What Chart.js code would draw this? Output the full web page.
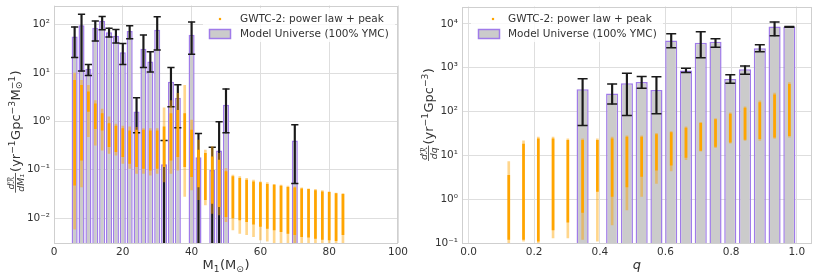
<!DOCTYPE html>
<html>
<head>
<meta charset="utf-8">
<script src="https://cdn.jsdelivr.net/npm/chart.js@4.4.1/dist/chart.umd.min.js"></script>
<style>
html, body { margin: 0; padding: 0; background: #fff; }
#wrap { position: relative; width: 818px; height: 277px; }
#wrap canvas { position: absolute; top: 0; }
#massChart { left: 0; }
#qChart { left: 409px; }
</style>
</head>
<body>
<div id="wrap">
    <canvas id="massChart" width="409" height="277"></canvas>
    <canvas id="qChart" width="409" height="277"></canvas>
</div>
<script>
// ---- left panel: primary mass ----
const massBarX = [6, 8, 10, 12, 14, 16, 18, 20, 22, 24, 26, 28, 30, 32, 34, 36, 40, 42, 46, 48, 50, 70];
const massBarVal = [57, 97, 12.3, 87, 121, 70, 59, 27, 74, 1.6, 32, 17.4, 79, 0.13, 6.6, 3.1, 62, 0.18, 0.098, 0.25, 2.2, 0.40];
const massErrHi = [90, 164, 15, 119, 148, 85, 80, 41, 95, 3.1, 61, 27.6, 146, 0.40, 13, 5.7, 114, 0.56, 0.29, 0.98, 4.7, 0.85];
const massErrLo = [21, 11, 8.9, 46, 79, 56, 42, 15, 51, 0.58, 13, 10.5, 30, 0.0001, 2.0, 0.74, 24.6, 0.0001, 0.0001, 0.0001, 0.58, 0.052];

const massGwX = [6, 8, 10, 12, 14, 16, 18, 20, 22, 24, 26, 28, 30, 32, 34, 36, 38, 40, 42, 44,
    46, 48, 50, 52, 54, 56, 58, 60, 62, 64, 66, 68, 70, 72, 74, 76, 78, 80, 82, 84];
const massGwHi = [10, 7.1, 5.6, 2.7, 1.8, 1.24, 0.875, 0.80, 0.77, 0.75, 0.71, 0.71, 0.71, 1.9, 2.7, 3.8, 5.6, 1.06, 0.41, 0.254,
    0.30, 0.217, 0.106, 0.077, 0.072, 0.066, 0.061, 0.056, 0.054, 0.050, 0.048, 0.046, 0.044, 0.042, 0.040, 0.039, 0.037, 0.035, 0.033, 0.032];
const massGwCoreHi = [7.1, 5.6, 4.1, 2.3, 1.45, 0.90, 0.80, 0.71, 0.64, 0.66, 0.66, 0.64, 0.64, 0.77, 1.45, 1.7, 1.45, 0.66, 0.254, 0.217,
    0.185, 0.158, 0.091, 0.072, 0.066, 0.061, 0.056, 0.054, 0.050, 0.048, 0.046, 0.043, 0.042, 0.040, 0.039, 0.037, 0.035, 0.034, 0.032, 0.031];
const massGwCoreLo = [0.048, 0.158, 1.6, 0.71, 0.66, 0.30, 0.235, 0.185, 0.135, 0.115, 0.106, 0.098, 0.106, 0.115, 0.158, 0.185, 0.115, 0.072, 0.044, 0.024,
    0.020, 0.0172, 0.0107, 0.0100, 0.0091, 0.0084, 0.0075, 0.0067, 0.0061, 0.0057, 0.0052, 0.0048, 0.0045, 0.0041, 0.0040, 0.0038, 0.0036, 0.0035, 0.0034, 0.0045];
const massGwLo = [0.0059, 0.044, 0.48, 0.32, 0.254, 0.217, 0.200, 0.135, 0.106, 0.084, 0.084, 0.077, 0.084, 0.056, 0.084, 0.098, 0.028, 0.038, 0.024, 0.0186,
    0.0125, 0.0116, 0.0084, 0.0057, 0.0048, 0.0045, 0.0041, 0.0035, 0.0033, 0.0030, 0.0028, 0.0028, 0.0028, 0.0026, 0.0026, 0.0026, 0.0026, 0.0026, 0.0026, 0.0028];

const massXTicks = [0, 20, 40, 60, 80, 100];
const massYTickVals = [0.01, 0.1, 1, 10, 100];
const massYTickLabels = ['10⁻²', '10⁻¹', '10⁰', '10¹', '10²'];

// ---- right panel: mass ratio ----
const qBarX = [0.3475, 0.4375, 0.4825, 0.5275, 0.5725, 0.6175, 0.6625, 0.7075, 0.7525, 0.7975, 0.8425, 0.8875, 0.9325, 0.9775];
const qBarVal = [325, 260, 445, 475, 310, 4200, 870, 3700, 3900, 550, 925, 2800, 8700, 8600];
const qErrHi = [560, 425, 745, 630, 620, 6000, 975, 6600, 4600, 690, 1100, 3330, 11000, 8750];
const qErrLo = [48, 148, 81, 340, 89, 2860, 775, 1700, 2950, 445, 710, 2320, 5350, 8450];

const qGwX = [0.1225, 0.1675, 0.2125, 0.2575, 0.3025, 0.3475, 0.3925, 0.4375, 0.4825, 0.5275,
    0.5725, 0.6175, 0.6625, 0.7075, 0.7525, 0.7975, 0.8425, 0.8875, 0.9325, 0.9775];
const qGwHi = [7.2, 21.5, 26, 26, 24, 24, 24, 26, 28, 28, 32, 35, 45, 57, 69, 93, 128, 175, 265, 460];
const qGwCoreHi = [3.5, 18, 24, 24, 22, 22, 22, 24, 26, 26, 30, 33, 42, 54, 66, 88, 120, 160, 240, 420];
const qGwCoreLo = [0.12, 0.12, 0.11, 0.2, 0.3, 0.5, 1.5, 1.15, 1.9, 3.3, 4.6, 6.0, 9, 13, 16, 20, 23, 24, 26, 28];
const qGwLo = [0.1, 0.11, 0.1, 0.13, 0.13, 0.12, 0.11, 0.26, 0.57, 1.15, 2.3, 4.4, 8, 12.5, 15, 19, 22, 22, 24.5, 26];

const qXTicks = [0, 0.2, 0.4, 0.6, 0.8, 1.0];
const qXTickLabels = ['0.0', '0.2', '0.4', '0.6', '0.8', '1.0'];
const qYTickVals = [0.1, 1, 10, 100, 1000, 10000];
const qYTickLabels = ['10⁻¹', '10⁰', '10¹', '10²', '10³', '10⁴'];

const legendLabels = ['GWTC-2: power law + peak', 'Model Universe (100% YMC)'];

// ---- styles ----
const FONT = '"DejaVu Sans", sans-serif';
const TEXT = '#333333';
const GRID = '#dedede';
const FRAME = '#cfcfcf';
const GRAY = '#cbcbcb';
const PURPLE = '#a07be9';
const ERR = '#1a1a1a';
const ORANGE = '#ffa500';
const ORANGE_SOFT = 'rgba(255,165,0,0.45)';
const FLOOR = 1e-4;

Chart.defaults.font.family = FONT;
Chart.defaults.color = TEXT;

function rangeData(xs, lo, hi) {
    return xs.map((x, i) => ({ x: x, y: [lo[i], hi[i]] }));
}

function capData(xs, lo, hi) {
    return xs.flatMap((x, i) => [{ x: x, y: lo[i] }, { x: x, y: hi[i] }]);
}

function buildDatasets(s) {
    return [
        { type: 'bar', data: rangeData(s.gwX, s.gwCoreLo, s.gwCoreHi), backgroundColor: ORANGE,
          barThickness: 2, grouped: false, order: 0, clip: 0 },
        { type: 'bar', data: rangeData(s.gwX, s.gwLo, s.gwHi), backgroundColor: ORANGE_SOFT,
          barThickness: 2, grouped: false, order: 1, clip: 0 },
        { type: 'scatter', data: capData(s.barX, s.errLo, s.errHi), pointStyle: 'line',
          pointRadius: s.capR, pointBorderWidth: 1.5, pointBorderColor: ERR, order: 2, clip: 0 },
        { type: 'bar', data: rangeData(s.barX, s.errLo, s.errHi), backgroundColor: ERR,
          barThickness: 1.5, grouped: false, order: 2, clip: 0 },
        { type: 'bar', data: rangeData(s.barX, s.barX.map(() => FLOOR), s.barVal),
          backgroundColor: GRAY, borderColor: PURPLE, borderWidth: 1.5, borderSkipped: false,
          barPercentage: s.barPct, categoryPercentage: 1, grouped: false, order: 3, clip: 0 }
    ];
}

// ---- rich text for axis titles ----
function fontStr(size, italic) {
    return (italic ? 'italic ' : '') + size + 'px ' + FONT;
}

function measureSeg(ctx, s, size) {
    if (s.num !== undefined) {
        ctx.font = fontStr(size * 0.72, true);
        return Math.max(ctx.measureText(s.num).width, ctx.measureText(s.den).width) + 4;
    }
    if (s.t !== undefined) {
        ctx.font = fontStr(size, s.italic);
        return ctx.measureText(s.t).width;
    }
    ctx.font = fontStr(size * 0.7);
    const a = s.sub ? ctx.measureText(s.sub).width : 0;
    const b = s.sup ? ctx.measureText(s.sup).width : 0;
    return Math.max(a, b) + 0.5;
}

function drawRich(ctx, segs, x, y, size) {
    const widths = segs.map((s) => measureSeg(ctx, s, size));
    let cx = x - widths.reduce((a, b) => a + b, 0) / 2;
    ctx.textBaseline = 'alphabetic';
    segs.forEach((s, i) => {
        const w = widths[i];
        if (s.num !== undefined) {
            const fs = size * 0.72;
            const axis = y - size * 0.3;
            ctx.font = fontStr(fs, true);
            ctx.textAlign = 'center';
            ctx.fillText(s.num, cx + w / 2, axis - 1.8);
            ctx.fillText(s.den, cx + w / 2, axis + 1.8 + fs * 0.75);
            ctx.fillRect(cx + 1, axis - 0.4, w - 2, 0.8);
        } else if (s.t !== undefined) {
            ctx.font = fontStr(size, s.italic);
            ctx.textAlign = 'left';
            ctx.fillText(s.t, cx, y);
        } else {
            ctx.font = fontStr(size * 0.7);
            ctx.textAlign = 'left';
            if (s.sup) ctx.fillText(s.sup, cx, y - size * 0.38);
            if (s.sub) ctx.fillText(s.sub, cx, y + size * 0.2);
        }
        cx += w;
    });
}

function makeDecor(cfg) {
    return {
        id: 'decor',
        afterDraw(chart) {
            const ctx = chart.ctx;
            const a = chart.chartArea;
            ctx.save();
            ctx.strokeStyle = FRAME;
            ctx.lineWidth = 1;
            ctx.strokeRect(Math.round(a.left) + 0.5, Math.round(a.top) + 0.5,
                Math.round(a.right - a.left) - 1, Math.round(a.bottom - a.top) - 1);

            const L = cfg.legend;
            ctx.fillStyle = 'rgba(255,255,255,0.8)';
            ctx.fillRect(L.box[0], L.box[1], L.box[2], L.box[3]);
            ctx.fillStyle = ORANGE;
            ctx.fillRect(L.dot[0] - 1.1, L.dot[1] - 1.1, 2.2, 2.2);
            ctx.fillStyle = GRAY;
            ctx.fillRect(L.patch[0], L.patch[1], L.patch[2], L.patch[3]);
            ctx.strokeStyle = PURPLE;
            ctx.lineWidth = 1.5;
            ctx.strokeRect(L.patch[0], L.patch[1], L.patch[2], L.patch[3]);
            ctx.fillStyle = TEXT;
            ctx.font = fontStr(10.5);
            ctx.textAlign = 'left';
            ctx.textBaseline = 'middle';
            legendLabels.forEach((txt, i) => ctx.fillText(txt, L.textX, L.rows[i]));

            drawRich(ctx, cfg.xTitle.segs, cfg.xTitle.x, cfg.xTitle.y, 13);
            ctx.translate(cfg.yTitle.x, cfg.yTitle.y);
            ctx.rotate(-Math.PI / 2);
            drawRich(ctx, cfg.yTitle.segs, 0, 0, 13);
            ctx.restore();
        }
    };
}

function makeChart(canvasId, s) {
    return new Chart(document.getElementById(canvasId), {
        type: 'bar',
        data: { datasets: buildDatasets(s) },
        options: {
            responsive: false,
            animation: false,
            layout: { padding: { top: 5, right: s.padRight, left: 0, bottom: 0 } },
            plugins: { legend: { display: false }, tooltip: { enabled: false } },
            scales: {
                x: {
                    type: 'linear',
                    min: s.xMin,
                    max: s.xMax,
                    offset: false,
                    grid: { color: GRID, lineWidth: 1, drawTicks: false, offset: false },
                    border: { display: false },
                    ticks: { padding: 3, color: TEXT, font: { size: 10.5 }, maxRotation: 0, autoSkip: false,
                        callback: (v, i) => s.xTickLabels[i] },
                    afterBuildTicks: (sc) => { sc.ticks = s.xTicks.map((v) => ({ value: v })); },
                    afterFit: (sc) => { sc.height = 34; sc.paddingLeft = 0; sc.paddingRight = 0; }
                },
                y: {
                    type: 'logarithmic',
                    min: s.yMin,
                    max: s.yMax,
                    grid: { color: GRID, lineWidth: 1, drawTicks: false },
                    border: { display: false },
                    ticks: { padding: 4, color: TEXT, font: { size: 10.5 }, autoSkip: false,
                        callback: (v, i) => s.yTickLabels[i] },
                    afterBuildTicks: (sc) => { sc.ticks = s.yTickVals.map((v) => ({ value: v })); },
                    afterFit: (sc) => { sc.width = s.yWidth; sc.paddingTop = 0; sc.paddingBottom = 0; }
                }
            }
        },
        plugins: [makeDecor(s.decor)]
    });
}

makeChart('massChart', {
    barX: massBarX, barVal: massBarVal, errHi: massErrHi, errLo: massErrLo,
    gwX: massGwX, gwHi: massGwHi, gwCoreHi: massGwCoreHi, gwCoreLo: massGwCoreLo, gwLo: massGwLo,
    xTicks: massXTicks, xTickLabels: massXTicks.map(String),
    yTickVals: massYTickVals, yTickLabels: massYTickLabels,
    xMin: 0, xMax: 100, yMin: 0.00304, yMax: 250,
    capR: 3.6, barPct: 0.88, padRight: 11, yWidth: 54,
    decor: {
        legend: { box: [203, 8, 192, 34], dot: [220, 19], patch: [209.5, 29.5, 21, 9], textX: 240, rows: [19, 34] },
        xTitle: { x: 226, y: 269, segs: [{ t: 'M' }, { sub: '1' }, { t: '(M' }, { sub: '⊙' }, { t: ')' }] },
        yTitle: { x: 19.5, y: 132, segs: [{ num: 'dℛ', den: 'dM₁' }, { t: '(yr' }, { sup: '−1' }, { t: 'Gpc' },
            { sup: '−3' }, { t: 'M' }, { sub: '⊙', sup: '−1' }, { t: ')' }] }
    }
});

makeChart('qChart', {
    barX: qBarX, barVal: qBarVal, errHi: qErrHi, errLo: qErrLo,
    gwX: qGwX, gwHi: qGwHi, gwCoreHi: qGwCoreHi, gwCoreLo: qGwCoreLo, gwLo: qGwLo,
    xTicks: qXTicks, xTickLabels: qXTickLabels,
    yTickVals: qYTickVals, yTickLabels: qYTickLabels,
    xMin: -0.02, xMax: 1.045, yMin: 0.1, yMax: 25000,
    capR: 5, barPct: 0.82, padRight: 6, yWidth: 53,
    decor: {
        legend: { box: [62, 8, 192, 34], dot: [84, 19], patch: [69.5, 29.5, 21, 9], textX: 99, rows: [19, 34] },
        xTitle: { x: 228, y: 269, segs: [{ t: 'q', italic: true }] },
        yTitle: { x: 23.5, y: 115, segs: [{ num: 'dℛ', den: 'dq' }, { t: '(yr' }, { sup: '−1' }, { t: 'Gpc' },
            { sup: '−3' }, { t: ')' }] }
    }
});
</script>
</body>
</html>
